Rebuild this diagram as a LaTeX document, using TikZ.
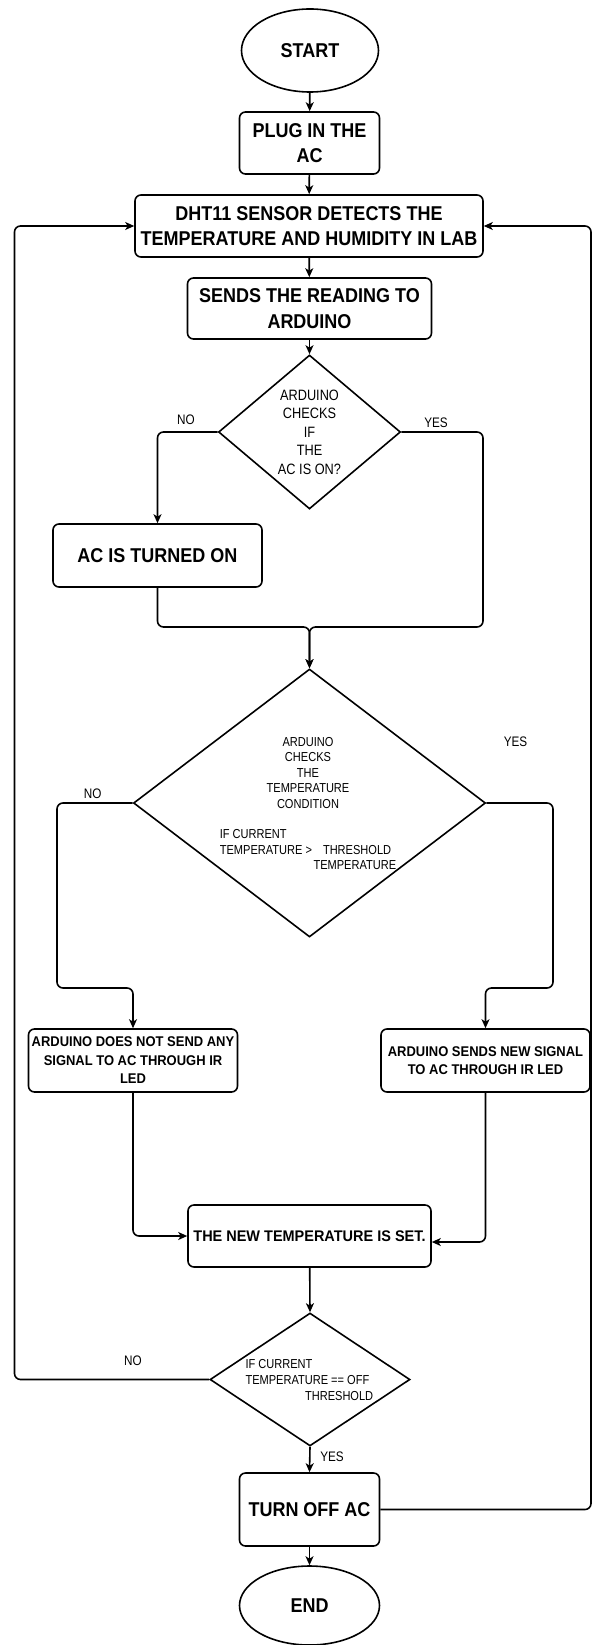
\documentclass[tikz,border=0pt]{standalone}
\usepackage{fontspec}
\setmainfont{Liberation Sans}
\newfontfamily\boxfont[FakeStretch=0.9]{Liberation Sans}
\newfontfamily\setfont[FakeStretch=0.94]{Liberation Sans}
\newfontfamily\smallfont[FakeStretch=0.92]{Liberation Sans}
\newfontfamily\narrowfont[FakeStretch=0.85]{Liberation Sans}
\usetikzlibrary{shapes.geometric,arrows.meta}
\begin{document}
\begin{tikzpicture}[x=1pt,y=-1pt,
  line width=1.6pt,
  box/.style={draw,rounded corners=6pt,align=center,inner sep=1pt,
    font=\boxfont\bfseries\fontsize{20}{25.5}\selectfont},
  smallbox/.style={draw,rounded corners=6pt,align=center,inner sep=1pt,
    font=\smallfont\bfseries\fontsize{14.1}{18.5}\selectfont},
  oval/.style={draw,ellipse,inner sep=0pt,font=\boxfont\bfseries\fontsize{20}{24}\selectfont},
  dec/.style={draw,diamond,inner sep=0pt},
  dtxtA/.style={align=center,inner sep=0pt,font=\narrowfont\fontsize{15}{18.5}\selectfont},
  dtxtB/.style={align=center,inner sep=0pt,font=\narrowfont\fontsize{13}{15.5}\selectfont},
  lbl/.style={inner sep=0pt,font=\narrowfont\fontsize{13.8}{15}\selectfont},
  conn/.style={draw,rounded corners=6pt,-{Stealth[length=9pt,width=8pt,inset=2.5pt]}}
]
\useasboundingbox (0,0) rectangle (593,1645);
\fill[white] (0,0) rectangle (593,1645);

% nodes
\node[oval,minimum width=137pt,minimum height=83pt] (start) at (310,50.5) {START};
\node[box,minimum width=140pt,minimum height=62pt] (plug) at (309.5,143) {PLUG IN THE\\AC};
\node[box,minimum width=348pt,minimum height=62pt] (dht) at (309,226) {DHT11 SENSOR DETECTS THE\\TEMPERATURE AND HUMIDITY IN LAB};
\node[box,minimum width=244pt,minimum height=61pt] (send) at (309.5,308.5) {SENDS THE READING TO\\ARDUINO};
\node[dec,minimum width=182pt,minimum height=154pt] (d1) at (309.5,432) {};
\node[dtxtA] (d1t) at (309.5,432) {ARDUINO\\CHECKS\\IF\\THE\\AC IS ON?};
\node[box,minimum width=209pt,minimum height=63pt] (ac) at (157.5,555.5) {AC IS TURNED ON};
\node[dec,minimum width=352pt,minimum height=268pt] (d2) at (309.5,803) {};
\node[dtxtB] (d2t) at (308,773) {ARDUINO\\CHECKS\\THE\\TEMPERATURE\\CONDITION};
\node[dtxtB,anchor=west] (d2c1) at (219,834) {IF CURRENT};
\node[dtxtB,anchor=west] (d2c2) at (219,850) {TEMPERATURE >\hspace{11pt}THRESHOLD};
\node[dtxtB,anchor=east] (d2c3) at (397,865) {TEMPERATURE};
\node[smallbox,minimum width=209pt,minimum height=63pt] (lbox) at (133,1060.5) {ARDUINO DOES NOT SEND ANY\\SIGNAL TO AC THROUGH IR\\LED};
\node[smallbox,minimum width=209pt,minimum height=63pt] (rbox) at (485.5,1060.5) {ARDUINO SENDS NEW SIGNAL\\TO AC THROUGH IR LED};
\node[box,minimum width=243pt,minimum height=62pt,font=\setfont\bfseries\fontsize{15.4}{18}\selectfont] (set) at (309.5,1236) {THE NEW TEMPERATURE IS SET.};
\node[dec,minimum width=200pt,minimum height=133pt] (d3) at (310,1379.5) {};
\node[dtxtB,anchor=west] (d3a) at (244.7,1364) {IF CURRENT};
\node[dtxtB,anchor=west] (d3b) at (244.7,1380) {TEMPERATURE == OFF};
\node[dtxtB,anchor=east] (d3c) at (374,1396) {THRESHOLD};
\node[box,minimum width=140pt,minimum height=73pt] (off) at (309.5,1509.5) {TURN OFF AC};
\node[oval,minimum width=140pt,minimum height=79pt] (end) at (309.5,1605.5) {END};

% coordinates for bends
\coordinate (j1) at (483,627);
\coordinate (m1) at (309.5,627);
\coordinate (j2) at (57,988);
\coordinate (j3) at (553,988);
\coordinate (j5) at (14.5,1379.5);
\coordinate (j6) at (591,1509.5);

% connectors
\draw[conn] (start) -- (plug);
\draw[conn] (plug) -- (dht);
\draw[conn] (dht) -- (send);
\draw[conn] (send) -- (d1.north);
\draw[conn] (d1.west) -| (ac.north);
\draw[conn] (d1.east) -| (j1) -- (m1) -- (d2.north);
\draw[conn] (ac.south) |- (m1) -- (d2.north);
\draw[conn] (d2.west) -| (j2) -| (lbox.north);
\draw[conn] (d2.east) -| (j3) -| (rbox.north);
\draw[conn] (lbox.south) |- (set.west);
\draw[conn] (rbox.south) |- ([yshift=-6pt]set.east);
\draw[conn] (set) -- (d3.north);
\draw[conn] (d3.west) -- (j5) |- (dht.west);
\draw[conn] (d3.south) -- (off.north);
\draw[conn] (off.east) -- (j6) |- (dht.east);
\draw[conn] (off) -- (end);

% labels
\node[lbl] (l1) at (186,420) {NO};
\node[lbl] (l2) at (436,423) {YES};
\node[lbl] (l3) at (92.7,794) {NO};
\node[lbl] (l4) at (515.5,742) {YES};
\node[lbl] (l5) at (133,1361) {NO};
\node[lbl] (l6) at (332,1457) {YES};
\end{tikzpicture}
\end{document}
